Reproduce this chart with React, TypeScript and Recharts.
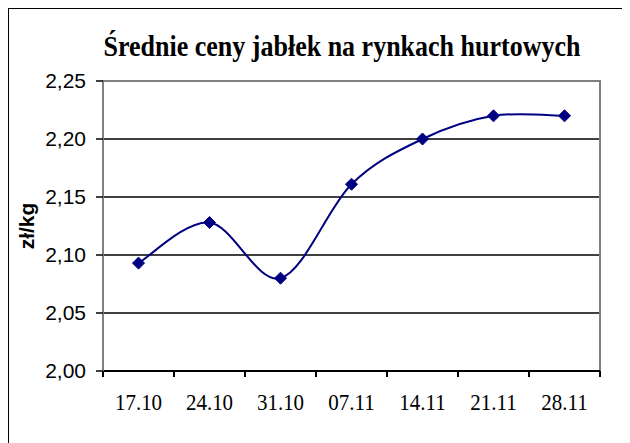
import React from 'react';
import { LineChart, Line, XAxis, YAxis, CartesianGrid, ReferenceArea, Label } from 'recharts';

const dates = ['17.10', '24.10', '31.10', '07.11', '14.11', '21.11', '28.11'];
const prices = [2.093, 2.128, 2.08, 2.161, 2.2, 2.22, 2.22];
const yTicks = [2.0, 2.05, 2.1, 2.15, 2.2, 2.25];

const data = dates.map((d, i) => ({ date: d, price: prices[i] }));

// Excel-style smoothed line (Catmull-Rom through the points)
const excelSmooth = (context: any) => {
  let pts: [number, number][] = [];
  return {
    areaStart() {},
    areaEnd() {},
    lineStart() {
      pts = [];
    },
    lineEnd() {
      const n = pts.length;
      if (!n) return;
      context.moveTo(pts[0][0], pts[0][1]);
      for (let i = 0; i < n - 1; i++) {
        const p0 = pts[Math.max(i - 1, 0)];
        const p1 = pts[i];
        const p2 = pts[i + 1];
        const p3 = pts[Math.min(i + 2, n - 1)];
        context.bezierCurveTo(
          p1[0] + (p2[0] - p0[0]) / 6,
          p1[1] + (p2[1] - p0[1]) / 6,
          p2[0] - (p3[0] - p1[0]) / 6,
          p2[1] - (p3[1] - p1[1]) / 6,
          p2[0],
          p2[1]
        );
      }
    },
    point(x: number, y: number) {
      pts.push([x, y]);
    },
  };
};

const Diamond = (props: any) => {
  const { cx, cy, index } = props;
  if (cx == null || cy == null) return <g key={index} />;
  const r = 6;
  return (
    <path
      key={index}
      d={`M${cx},${cy - r}L${cx + r},${cy}L${cx},${cy + r}L${cx - r},${cy}Z`}
      fill="#000080"
      stroke="#000080"
    />
  );
};

const DateTick = (props: any) => {
  const { x, y, payload, index, width, visibleTicksCount } = props;
  const count = visibleTicksCount || dates.length;
  const band = width ? width / count : 71;
  return (
    <g>
      <line x1={x - band / 2} x2={x - band / 2} y1={y} y2={y + 6} stroke="#000" strokeWidth={2} />
      {index === count - 1 && (
        <line x1={x + band / 2} x2={x + band / 2} y1={y} y2={y + 6} stroke="#000" strokeWidth={2} />
      )}
      <text
        transform={`translate(${x},${y + 22}) scale(1,1.12)`}
        dy="0.71em"
        textAnchor="middle"
        fill="#000"
        fontFamily="'Liberation Serif', 'Times New Roman', serif"
        fontSize={21}
      >
        {payload.value}
      </text>
    </g>
  );
};

export default function App() {
  return (
    <div
      style={{
        position: 'relative',
        marginLeft: -1,
        marginTop: -1,
        width: 621,
        height: 434,
        borderLeft: '2px solid #000',
        borderTop: '2px solid #000',
        background: '#fff',
      }}
    >
      <div
        style={{
          position: 'absolute',
          left: 33,
          top: 24,
          width: 600,
          textAlign: 'center',
          fontFamily: "'Liberation Serif', 'Times New Roman', serif",
          fontWeight: 'bold',
          fontSize: 26,
          lineHeight: '30px',
          color: '#000',
          transform: 'scaleY(1.15)',
          transformOrigin: '50% 80%',
        }}
      >
        Średnie ceny jabłek na rynkach hurtowych
      </div>
      <div style={{ position: 'absolute', left: 0, top: 0 }}>
        <LineChart width={619} height={432} data={data} margin={{ top: 72, right: 28, left: 0, bottom: 30 }}>
          <CartesianGrid vertical={false} stroke="#000" strokeWidth={1.5} />
          <ReferenceArea y1={2.0} y2={2.25} fill="none" stroke="#808080" strokeWidth={2} />
          <XAxis
            dataKey="date"
            scale="band"
            interval={0}
            height={40}
            tickSize={0}
            tickMargin={0}
            tickLine={false}
            axisLine={{ stroke: '#000', strokeWidth: 2 }}
            tick={<DateTick />}
          />
          <YAxis
            width={94}
            domain={[2.0, 2.25]}
            ticks={yTicks}
            interval={0}
            tickSize={7}
            tickMargin={10}
            tickFormatter={(v) => Number(v).toFixed(2).replace('.', ',')}
            tick={{ fill: '#000', fontSize: 21, fontFamily: "'Liberation Sans', Arial, sans-serif" }}
            tickLine={{ stroke: '#000', strokeWidth: 1.5 }}
            axisLine={{ stroke: '#808080', strokeWidth: 2 }}
          >
            <Label
              value="zł/kg"
              angle={-90}
              position="insideLeft"
              offset={18}
              style={{
                textAnchor: 'middle',
                fontWeight: 'bold',
                fontSize: 21,
                fontFamily: "'Liberation Sans', Arial, sans-serif",
                fill: '#000',
              }}
            />
          </YAxis>
          <Line
            type={excelSmooth as any}
            dataKey="price"
            stroke="#000080"
            strokeWidth={2}
            dot={Diamond}
            activeDot={false}
            isAnimationActive={false}
          />
        </LineChart>
      </div>
    </div>
  );
}
